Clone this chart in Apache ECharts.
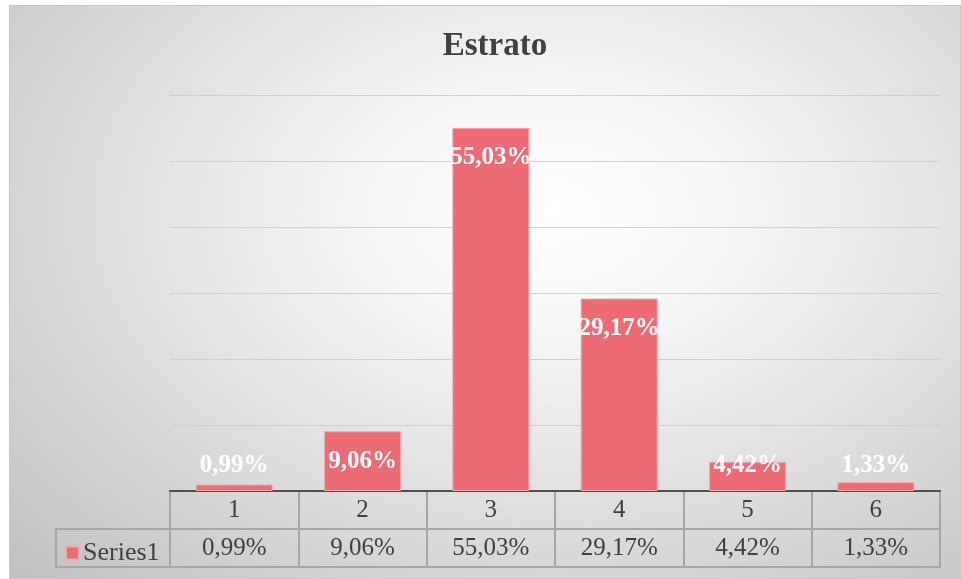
<!DOCTYPE html>
<html>
<head>
<meta charset="utf-8">
<script src="https://cdn.jsdelivr.net/npm/echarts@6/dist/echarts.min.js"></script>
<style>
html,body{margin:0;padding:0;background:#fff;width:961px;height:579px;overflow:hidden;}
#bg{position:absolute;left:9px;top:5px;width:952px;height:574px;
 background:radial-gradient(farthest-corner at 57% 36%, #ffffff 0%, #f7f7f7 22%, #dddddd 60%, #c0c0c0 100%);
 box-shadow: inset 0 0 0 1px #c8c8c8;}
#chart{position:absolute;left:0;top:0;width:961px;height:579px;}
</style>
</head>
<body>
<div id="bg"></div>
<div id="chart"></div>
<script>
var titleText = 'Estrato';
var seriesName = 'Series1';
var categories = ['1', '2', '3', '4', '5', '6'];
var values = [0.99, 9.06, 55.03, 29.17, 4.42, 1.33];
var yTicks = {min: 0, max: 60, interval: 10};

function pct(v) { return Number(v).toFixed(2).replace('.', ',') + '%'; }

var FONT = '"Liberation Serif", "Times New Roman", serif';
var LINE = '#a6a6a6';
var chart = echarts.init(document.getElementById('chart'), null, {renderer: 'canvas'});
chart.setOption({
  backgroundColor: 'transparent',
  animation: false,
  title: {
    text: titleText, left: 490, top: 25, textAlign: 'center',
    textStyle: {fontFamily: FONT, fontWeight: 'bold', fontSize: 33, color: '#404040'}
  },
  legend: {
    data: [seriesName], left: 60, top: 535, icon: 'rect', itemWidth: 13, itemHeight: 13, itemGap: 5,
    textStyle: {fontFamily: FONT, fontSize: 26, color: '#404040', padding: [0, 0, 0, -1]}
  },
  grid: [
    {left: 170, right: 21, top: 95, height: 396},
    {left: 170, right: 21, top: 491, height: 76, show: true, borderColor: LINE, borderWidth: 2, backgroundColor: 'transparent'}
  ],
  xAxis: [
    {type: 'category', data: categories, gridIndex: 0, position: 'bottom',
     axisLine: {lineStyle: {color: '#505050', width: 2}}, axisTick: {show: false},
     axisLabel: {fontFamily: FONT, fontSize: 25, color: '#404040', margin: 7}},
    {type: 'category', data: categories, gridIndex: 0, position: 'bottom', offset: 38,
     axisLine: {show: false}, axisTick: {show: false},
     axisLabel: {fontFamily: FONT, fontSize: 25, color: '#404040', margin: 7,
       formatter: function (v, i) { return pct(values[i]); }}},
    {type: 'category', data: categories, gridIndex: 1, boundaryGap: true,
     axisLine: {show: false}, axisTick: {show: false}, axisLabel: {show: false},
     splitLine: {show: true, interval: 0, lineStyle: {color: LINE, width: 2}}}
  ],
  yAxis: [
    {type: 'value', gridIndex: 0, min: yTicks.min, max: yTicks.max, interval: yTicks.interval,
     axisLabel: {show: false}, axisLine: {show: false}, axisTick: {show: false},
     splitLine: {lineStyle: {color: '#d0d0d0', width: 1}}},
    {type: 'value', gridIndex: 1, min: 0, max: 2, interval: 1,
     axisLabel: {show: false}, axisLine: {show: false}, axisTick: {show: false},
     splitLine: {lineStyle: {color: LINE, width: 2}}}
  ],
  graphic: [
    {type: 'rect', shape: {x: 56, y: 529, width: 114, height: 38},
     style: {fill: 'transparent', stroke: LINE, lineWidth: 2}, silent: true}
  ],
  series: [
    {name: seriesName, type: 'bar', xAxisIndex: 0, yAxisIndex: 0, data: values, barWidth: '60%',
     itemStyle: {color: '#ED6B74', borderColor: '#F5A8AE', borderWidth: 1},
     label: {show: true, position: 'inside', color: '#ffffff', fontFamily: FONT, fontWeight: 'bold', fontSize: 25,
       formatter: function (p) { return pct(p.value); }},
     labelLayout: function (p) {
       var r = p.rect;
       return {x: r.x + r.width / 2, y: Math.min(r.y + 30, r.y + r.height - 25), align: 'center', verticalAlign: 'middle'};
     }},
    {type: 'scatter', xAxisIndex: 2, yAxisIndex: 1, data: [], silent: true}
  ]
});
</script>
</body>
</html>
